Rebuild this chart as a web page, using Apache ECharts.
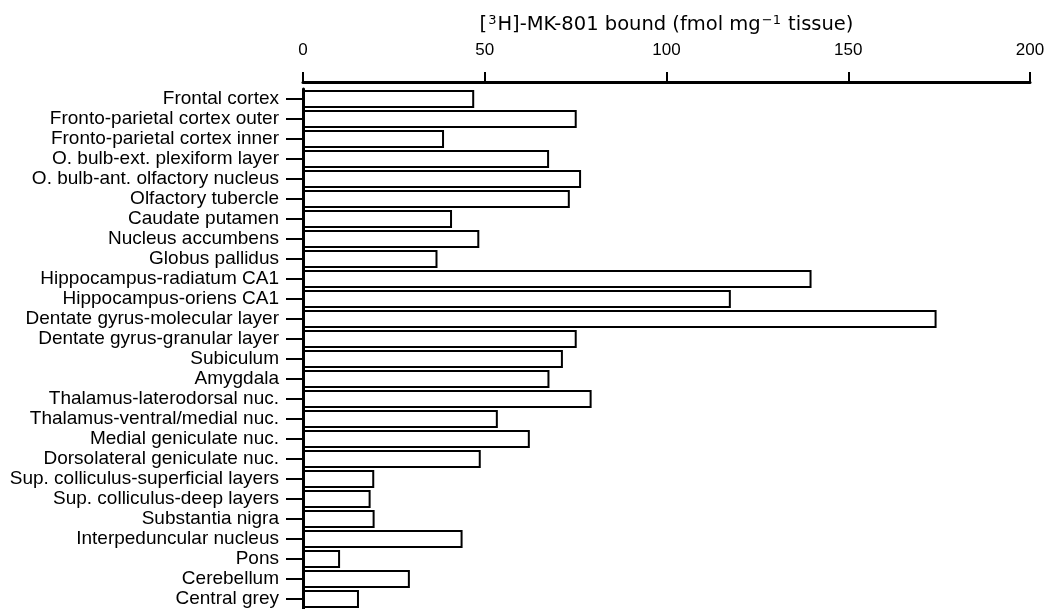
<!DOCTYPE html>
<html>
<head>
<meta charset="utf-8">
<script src="https://cdn.jsdelivr.net/npm/echarts@6/dist/echarts.min.js"></script>
<style>
html,body{margin:0;padding:0;background:#fff;}
#chart{width:1048px;height:609px;}
</style>
</head>
<body>
<div id="chart"></div>
<script>
var categories = [
  "Frontal cortex",
  "Fronto-parietal cortex outer",
  "Fronto-parietal cortex inner",
  "O. bulb-ext. plexiform layer",
  "O. bulb-ant. olfactory nucleus",
  "Olfactory tubercle",
  "Caudate putamen",
  "Nucleus accumbens",
  "Globus pallidus",
  "Hippocampus-radiatum CA1",
  "Hippocampus-oriens CA1",
  "Dentate gyrus-molecular layer",
  "Dentate gyrus-granular layer",
  "Subiculum",
  "Amygdala",
  "Thalamus-laterodorsal nuc.",
  "Thalamus-ventral/medial nuc.",
  "Medial geniculate nuc.",
  "Dorsolateral geniculate nuc.",
  "Sup. colliculus-superficial layers",
  "Sup. colliculus-deep layers",
  "Substantia nigra",
  "Interpeduncular nucleus",
  "Pons",
  "Cerebellum",
  "Central grey"
];
var mk801Bound = [
  47.1, 75.3, 38.8, 67.7, 76.5, 73.4, 41.0, 48.5, 37.0,
  139.9, 117.7, 174.3, 75.3, 71.5, 67.8, 79.4, 53.6, 62.4, 48.9,
  19.6, 18.6, 19.7, 43.9, 10.2, 29.4, 15.4
];
var xTicks = { min: 0, max: 200, interval: 50 };
var axisTitle = "[{sup|3}H]-MK-801 bound (fmol mg{sup|\u22121} tissue)";

var font = "'Liberation Sans', Arial, Helvetica, sans-serif";
var chart = echarts.init(document.getElementById('chart'), null, {renderer: 'canvas'});
chart.setOption({
  animation: false,
  backgroundColor: '#ffffff',
  grid: { left: 303, right: 18, top: 89, bottom: -1, containLabel: false },
  xAxis: {
    type: 'value',
    position: 'top',
    offset: 7,
    min: xTicks.min, max: xTicks.max, interval: xTicks.interval,
    axisLine: { show: true, lineStyle: { color: '#000', width: 3 } },
    axisTick: { show: true, inside: false, length: 10, lineStyle: { color: '#000', width: 2 } },
    splitLine: { show: false },
    axisLabel: { color: '#000', fontSize: 17, fontFamily: font, margin: 23 },
    name: axisTitle,
    nameLocation: 'middle',
    nameGap: 46,
    nameTextStyle: {
      color: '#000', fontSize: 19.5, fontFamily: "'DejaVu Sans', sans-serif",
      rich: { sup: { fontSize: 13, fontFamily: "'DejaVu Sans', sans-serif", color: '#000', padding: [0, 1, 9, 1] } }
    }
  },
  yAxis: {
    type: 'category',
    inverse: true,
    data: categories,
    axisLine: { show: true, lineStyle: { color: '#000', width: 3 } },
    axisTick: { show: true, alignWithLabel: true, interval: 0, inside: false, length: 17, lineStyle: { color: '#000', width: 2 } },
    axisLabel: { color: '#000', fontSize: 19, fontFamily: font, margin: 24, interval: 0 },
    splitLine: { show: false }
  },
  series: [{
    type: 'bar',
    data: mk801Bound,
    barCategoryGap: '10%',
    itemStyle: { color: '#ffffff', borderColor: '#000', borderWidth: 2 },
    emphasis: { disabled: true }
  }]
});
</script>
</body>
</html>
